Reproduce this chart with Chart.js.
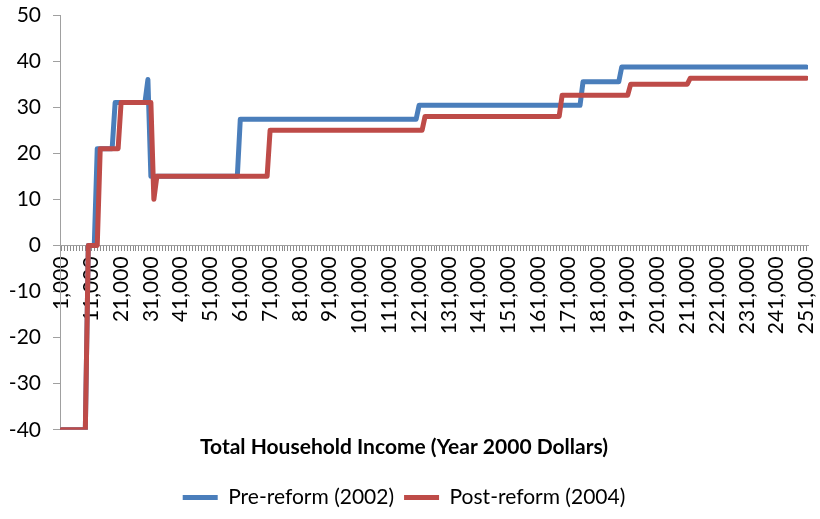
<!DOCTYPE html>
<html>
<head>
<meta charset="utf-8">
<script src="https://cdn.jsdelivr.net/npm/chart.js@4/dist/chart.umd.min.js"></script>
<style>
  html, body { margin: 0; padding: 0; background: #fff; }
</style>
</head>
<body>
<canvas id="grafico" width="820" height="519"></canvas>
<script>
// puntos de quiebre (ingreso del hogar, valor)
const ingresoPre = [1000, 9000, 10000, 12000, 13000, 18000, 19000, 29000, 30000, 31000, 60000, 61000, 120000, 121000, 175000, 176000, 188000, 189000, 251000];
const valorPre   = [-40, -40, 0, 0, 21, 21, 31, 31, 36, 15, 15, 27.4, 27.4, 30.4, 30.4, 35.5, 35.5, 38.7, 38.7];

const ingresoPost = [1000, 9000, 10000, 13000, 14000, 20000, 21000, 31000, 32000, 33000, 70000, 71000, 122000, 123000, 168000, 169000, 191000, 192000, 211000, 212000, 251000];
const valorPost   = [-40, -40, 0, 0, 21, 21, 31, 31, 10, 15, 15, 25, 25, 28, 28, 32.6, 32.6, 35, 35, 36.3, 36.3];

const etiquetasX = [1000, 11000, 21000, 31000, 41000, 51000, 61000, 71000, 81000, 91000, 101000, 111000, 121000, 131000, 141000, 151000, 161000, 171000, 181000, 191000, 201000, 211000, 221000, 231000, 241000, 251000];

const series = ['Pre-reform (2002)', 'Post-reform (2004)'];
const colores = ['#4a7ebb', '#be4b48'];

const fuente = 'Lato, "Open Sans", sans-serif';
const gris = '#a0a0a0';

function puntos(xs, ys) {
  return xs.map((x, i) => ({ x: x, y: ys[i] }));
}

new Chart(document.getElementById('grafico').getContext('2d'), {
  type: 'line',
  data: {
    datasets: [{
      label: series[0],
      data: puntos(ingresoPre, valorPre),
      borderColor: colores[0],
      backgroundColor: colores[0],
      borderWidth: 5,
      pointRadius: 0,
      borderCapStyle: 'round',
      borderJoinStyle: 'round',
      order: 2
    }, {
      label: series[1],
      data: puntos(ingresoPost, valorPost),
      borderColor: colores[1],
      backgroundColor: colores[1],
      borderWidth: 5,
      pointRadius: 0,
      borderCapStyle: 'round',
      borderJoinStyle: 'round',
      order: 1
    }]
  },
  options: {
    responsive: false,
    animation: false,
    layout: { padding: { top: 15, right: 12, left: 0, bottom: 1 } },
    scales: {
      x: {
        type: 'linear',
        position: { y: 0 },
        min: 500,
        max: 251500,
        afterBuildTicks: escala => {
          const marcas = [];
          for (let v = 1000; v <= 251000; v += 1000) marcas.push({ value: v });
          escala.ticks = marcas;
        },
        afterFit: escala => {
          escala.paddingLeft = 0; escala.paddingRight = 0;
          escala.paddingTop = 0; escala.paddingBottom = 0;
        },
        ticks: {
          autoSkip: false,
          maxRotation: 90,
          minRotation: 90,
          padding: 6,
          color: '#000',
          font: { family: fuente, size: 21 },
          callback: v => etiquetasX.includes(v) ? v.toLocaleString('en-US') : ''
        },
        grid: { drawOnChartArea: false, drawTicks: true, tickLength: 5, color: '#8c8c8c', lineWidth: 1 },
        border: { color: gris, width: 1 }
      },
      y: {
        min: -40,
        max: 50,
        afterFit: escala => {
          escala.width = 60;
          escala.paddingTop = 0; escala.paddingBottom = 0;
        },
        ticks: {
          stepSize: 10,
          padding: 12,
          color: '#000',
          font: { family: fuente, size: 21 }
        },
        grid: { drawOnChartArea: false, drawTicks: true, tickLength: 7, color: gris },
        border: { color: gris, width: 1 }
      }
    },
    plugins: {
      title: {
        display: true,
        position: 'bottom',
        text: 'Total Household Income (Year 2000 Dollars)',
        color: '#000',
        font: { family: fuente, size: 21, weight: 'bold' },
        padding: { top: 5, bottom: 17 },
        weight: 500
      },
      legend: {
        position: 'bottom',
        weight: 1000,
        labels: {
          color: '#000',
          font: { family: fuente, size: 21 },
          boxWidth: 35,
          boxHeight: 5,
          padding: 10,
          sort: (a, b) => a.datasetIndex - b.datasetIndex,
          generateLabels: chart => Chart.defaults.plugins.legend.labels.generateLabels(chart)
            .map(l => Object.assign(l, { lineWidth: 0, fillStyle: l.strokeStyle }))
        }
      },
      tooltip: { enabled: false }
    }
  }
});
</script>
</body>
</html>
